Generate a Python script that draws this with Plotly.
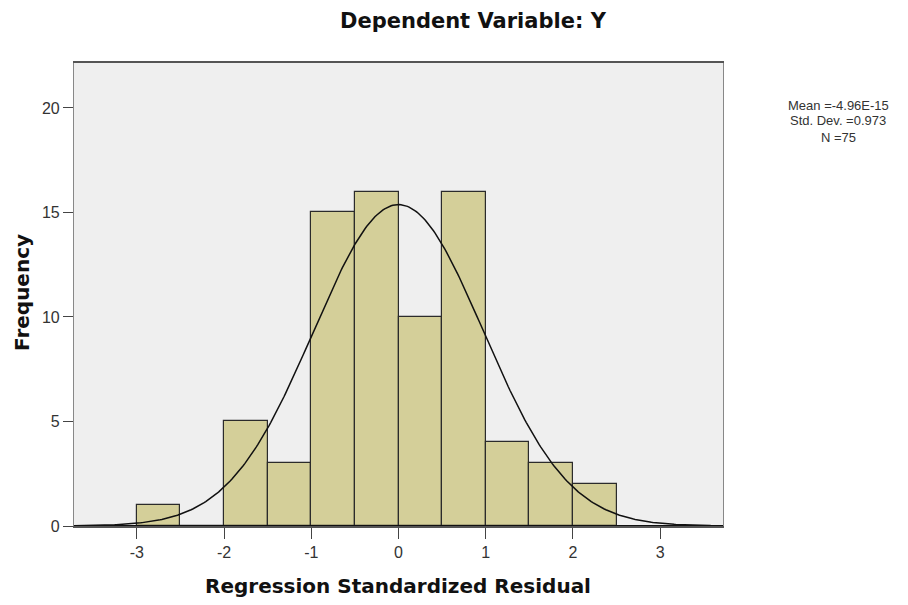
import numpy as np
import plotly.graph_objects as go

# Histogram data (bin lower edges and frequencies)
bin_edges_left = [-3.0, -2.5, -2.0, -1.5, -1.0, -0.5, 0.0, 0.5, 1.0, 1.5, 2.0]
frequencies = [1, 0, 5, 3, 15, 16, 10, 16, 4, 3, 2]
bin_width = 0.5

# Summary statistics
mean_val = -4.96e-15
std_val = 0.973
n_val = 75
stat_lines = ["Mean =-4.96E-15", "Std. Dev. =0.973", "N =75"]
x_ticks = [-3, -2, -1, 0, 1, 2, 3]
y_ticks = [0, 5, 10, 15, 20]

centers = [e + bin_width / 2 for e in bin_edges_left]

fig = go.Figure()
fig.add_trace(go.Bar(
    x=centers, y=frequencies, width=[bin_width] * len(centers),
    marker=dict(color="#D4CF99", line=dict(color="#2b2b2b", width=1.2)),
    hoverinfo="x+y", showlegend=False,
))

xs = np.linspace(-3.72, 3.72, 400)
ys = n_val * bin_width / (std_val * np.sqrt(2 * np.pi)) * np.exp(-0.5 * ((xs - mean_val) / std_val) ** 2)
fig.add_trace(go.Scatter(x=xs, y=ys, mode="lines",
                         line=dict(color="#111111", width=1.5), showlegend=False))

font_family = "Liberation Sans, Arial, sans-serif"
wide_bold = "DejaVu Sans, Verdana, sans-serif"

# page body has an 8px margin; plot area targeted at x 74..723, y 63..526 on screen
L, T, PW, PH = 74, 63, 649, 463


def px(x):
    return (x - L) / PW


def py(y):
    return (T + PH - y) / PH


annotations = [
    dict(text="<b>Dependent Variable: Y</b>", xref="paper", yref="paper",
         x=px(473), y=py(21), xanchor="center", yanchor="middle", showarrow=False,
         font=dict(size=21, color="#111", family=wide_bold)),
    dict(text="<b>Regression Standardized Residual</b>", xref="paper", yref="paper",
         x=px(398), y=py(586), xanchor="center", yanchor="middle", showarrow=False,
         font=dict(size=20, color="#111", family=wide_bold)),
    dict(text="<b>Frequency</b>", xref="paper", yref="paper",
         x=px(22), y=py(293), textangle=-90, xanchor="center", yanchor="middle",
         showarrow=False, font=dict(size=20, color="#111", family=wide_bold)),
]
for i, line in enumerate(stat_lines):
    annotations.append(dict(
        text=line, xref="paper", yref="paper", x=px(838), y=py(105 + 16 * i),
        xanchor="center", yanchor="middle", showarrow=False,
        font=dict(size=13, color="#333", family=font_family)))

fig.update_layout(
    width=900, height=597,
    margin=dict(l=66, r=185, t=55, b=79),
    paper_bgcolor="white",
    plot_bgcolor="#EFEFEF",
    bargap=0,
    font=dict(family=font_family, size=16, color="#222"),
    xaxis=dict(
        range=[-3.72, 3.72], tickvals=x_ticks, ticktext=[str(t) for t in x_ticks],
        ticks="outside", ticklen=11, tickcolor="#444", showgrid=False, zeroline=False,
        showline=True, linecolor="#555", linewidth=1.5, mirror=True,
        tickfont=dict(size=16, color="#333"),
    ),
    yaxis=dict(
        range=[0, 22.15], tickvals=y_ticks, ticktext=[str(t) for t in y_ticks],
        ticks="outside", ticklen=10, tickcolor="#444", showgrid=False, zeroline=False,
        showline=True, linecolor="#888", linewidth=1.2, mirror=True,
        tickfont=dict(size=16, color="#333"),
    ),
    annotations=annotations,
)
# black baseline at y=0
fig.add_hline(y=0, line=dict(color="#111", width=2))

fig.write_html("out.html")
